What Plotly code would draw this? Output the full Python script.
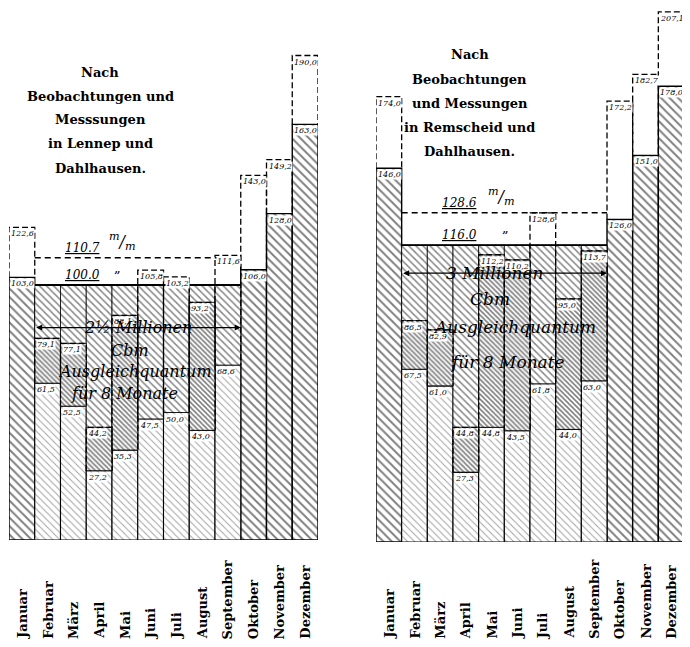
import plotly.graph_objects as go

months = ["Januar", "Februar", "März", "April", "Mai", "Juni", "Juli",
          "August", "September", "Oktober", "November", "Dezember"]

# Left panel: Lennep und Dahlhausen (mm)
left_upper = [122.6, 79.1, 77.1, 44.2, 88.1, 105.8, 103.2, 93.2, 111.6, 143.0, 149.2, 190.0]
left_lower = [103.0, 61.5, 52.5, 27.2, 35.3, 47.5, 50.0, 43.0, 68.6, 106.0, 128.0, 163.0]
left_upper_mean = 110.7
left_lower_mean = 100.0
left_title = ["Nach", "Beobachtungen und", "Messsungen", "in Lennep und", "Dahlhausen."]
left_quant = ["2½ Millionen", "Cbm", "Ausgleichquantum", "für 8 Monate"]

# Right panel: Remscheid und Dahlhausen (mm)
right_upper = [174.0, 86.5, 82.9, 44.8, 112.2, 110.2, 128.6, 95.0, 113.7, 172.2, 182.7, 207.1]
right_lower = [146.0, 67.5, 61.0, 27.3, 44.8, 43.5, 61.8, 44.0, 63.0, 126.0, 151.0, 178.0]
right_upper_mean = 128.6
right_lower_mean = 116.0
right_title = ["Nach", "Beobachtungen", "und Messungen", "in Remscheid und", "Dahlhausen."]
right_quant = ["3 Millionen", "Cbm", "Ausgleichquantum", "für 8 Monate"]

SERIF = "DejaVu Serif"
OFF = 8          # page body margin of the browser
W, H = 690 - OFF, 647 - OFF


def px(x):
    return min(max((x - OFF) / W, 0), 1)


def py(y):
    return min(max(1 - (y - OFF) / H, 0), 1)


fig = go.Figure()
ann = []


def fmt(v):
    return f"{v:.1f}".replace(".", ",")


def hatch(size, solidity, fg="black"):
    return dict(shape="\\", fgcolor=fg, bgcolor="white", size=size,
                solidity=solidity, fillmode="overlay")


def panel(xa, upper, lower, umean, lmean, title, quant, tx, ty0, qx, qy, qsize, loff):
    idx = list(range(len(months)))
    xr = "x" if xa == 1 else f"x{xa}"
    yr = "y" if xa == 1 else f"y{xa}"
    sel = [i for i in idx if lower[i] < lmean]
    full = [i for i in idx if i not in sel]
    # months above the compensated level: bold hatch
    fig.add_trace(go.Bar(
        x=full, y=[lower[i] for i in full], width=1, xaxis=xr, yaxis=yr,
        marker=dict(color="white", line=dict(color="black", width=1.4),
                    pattern=hatch(6, 0.32)),
        showlegend=False, hoverinfo="skip"))
    # dry months: lighter hatch below the lower value
    fig.add_trace(go.Bar(
        x=sel, y=[lower[i] for i in sel], width=1, xaxis=xr, yaxis=yr,
        marker=dict(color="white", line=dict(color="black", width=1.1),
                    pattern=hatch(5, 0.2, "#444")),
        showlegend=False, hoverinfo="skip"))
    # compensation region (lower -> lower mean)
    fig.add_trace(go.Bar(
        x=sel, y=[lmean - lower[i] for i in sel], base=[lower[i] for i in sel],
        width=1, xaxis=xr, yaxis=yr,
        marker=dict(color="white", line=dict(color="black", width=0.8),
                    pattern=hatch(5, 0.3, "#111")),
        showlegend=False, hoverinfo="skip"))
    # darker region between lower and upper value inside the compensation area
    sel2 = [i for i in sel if upper[i] < lmean]
    fig.add_trace(go.Bar(
        x=sel2, y=[upper[i] - lower[i] for i in sel2], base=[lower[i] for i in sel2],
        width=1, xaxis=xr, yaxis=yr,
        marker=dict(color="white", line=dict(color="black", width=0.8),
                    pattern=hatch(3.5, 0.45)),
        showlegend=False, hoverinfo="skip"))
    # dashed outlines of the upper values
    xs, ys = [], []
    for i in idx:
        xs += [i - 0.5, i - 0.5, i + 0.5, i + 0.5, None]
        ys += [lower[i], upper[i], upper[i], lower[i], None]
    fig.add_trace(go.Scatter(x=xs, y=ys, mode="lines", xaxis=xr, yaxis=yr,
                             line=dict(color="black", width=1.3, dash="6px,3px"),
                             showlegend=False, hoverinfo="skip"))
    x0, x1 = sel[0] - 0.5, sel[-1] + 0.5
    fig.add_trace(go.Scatter(x=[x0, x1], y=[umean, umean], mode="lines", xaxis=xr, yaxis=yr,
                             line=dict(color="black", width=1.4, dash="6px,4px"),
                             showlegend=False, hoverinfo="skip"))
    fig.add_trace(go.Scatter(x=[x0, x1], y=[lmean, lmean], mode="lines", xaxis=xr, yaxis=yr,
                             line=dict(color="black", width=1.8),
                             showlegend=False, hoverinfo="skip"))
    for i in idx:
        for v in (upper[i], lower[i]):
            ann.append(dict(x=i - 0.46, y=v, xref=xr, yref=yr, xanchor="left", yanchor="top",
                            text=f"<i>{fmt(v)}</i>", showarrow=False, yshift=-1,
                            bgcolor="white", borderpad=0,
                            font=dict(family=SERIF, size=8, color="black")))
    ann.append(dict(x=x0 + loff[0], y=umean, xref=xr, yref=yr, xanchor="left",
                    yanchor="bottom", text=f"<i><u>{umean:.1f}</u></i>", showarrow=False,
                    yshift=1, font=dict(family=SERIF, size=12, color="black")))
    ann.append(dict(x=x0 + loff[1], y=umean, xref=xr, yref=yr, xanchor="left",
                    yanchor="bottom", text="<i><sup>m</sup>/<sub>m</sub></i>",
                    showarrow=False, yshift=3, font=dict(family=SERIF, size=16, color="black")))
    ann.append(dict(x=x0 + loff[0], y=lmean, xref=xr, yref=yr, xanchor="left",
                    yanchor="bottom", text=f"<i><u>{lmean:.1f}</u></i>", showarrow=False,
                    yshift=1, font=dict(family=SERIF, size=12, color="black")))
    ann.append(dict(x=x0 + loff[2], y=lmean, xref=xr, yref=yr, xanchor="left",
                    yanchor="bottom", text="„", showarrow=False, yshift=8,
                    font=dict(family=SERIF, size=13, color="black")))
    for k, line in enumerate(title):
        ann.append(dict(x=px(tx), y=py(ty0 + 24 * k), xref="paper", yref="paper",
                        xanchor="center", yanchor="middle", text=f"<b>{line}</b>",
                        showarrow=False,
                        font=dict(family=SERIF, size=13, color="black")))
    ann.append(dict(x=x1, y=qy[0], ax=x0, ay=qy[0], xref=xr, yref=yr, axref=xr, ayref=yr,
                    text="", showarrow=True, arrowhead=2, arrowside="end+start",
                    arrowsize=1, arrowwidth=1.2, arrowcolor="black"))
    for k, line in enumerate(quant):
        ann.append(dict(x=qx[k], y=qy[k], xref=xr, yref=yr, xanchor="center", yanchor="middle",
                        text=f"<i>{line}</i>", showarrow=False,
                        font=dict(family=SERIF, size=qsize, color="black")))
    for i in idx:
        ann.append(dict(x=i, y=py(641), xref=xr, yref="paper", xanchor="center",
                        yanchor="bottom", textangle=-90, text=f"<b>{months[i]}</b>",
                        showarrow=False,
                        font=dict(family=SERIF, size=13, color="black")))


panel(1, left_upper, left_lower, left_upper_mean, left_lower_mean,
      left_title, left_quant, 100, 72,
      [4.5, 4.2, 4.4, 4.0], [83.3, 74.5, 65.9, 57.6], 16, [1.1, 2.8, 3.0])
panel(2, right_upper, right_lower, right_upper_mean, right_lower_mean,
      right_title, right_quant, 470, 55,
      [4.14, 3.95, 4.9, 4.64], [105.0, 95.0, 84.0, 70.3], 17, [1.5, 3.3, 3.85])

fig.update_layout(
    width=W, height=H, margin=dict(l=0, r=0, t=0, b=0),
    paper_bgcolor="white", plot_bgcolor="white", barmode="overlay",
    showlegend=False, annotations=ann,
    xaxis=dict(domain=[px(9), px(318)], range=[-0.5, 11.5], visible=False),
    yaxis=dict(domain=[py(540), 1], range=[0, (540 - OFF) / 2.55], visible=False),
    xaxis2=dict(domain=[px(376), px(684)], range=[-0.5, 11.5], visible=False),
    yaxis2=dict(domain=[py(542), 1], range=[0, (542 - OFF) / 2.56], visible=False,
                anchor="x2"),
)
fig.write_html("out.html")
